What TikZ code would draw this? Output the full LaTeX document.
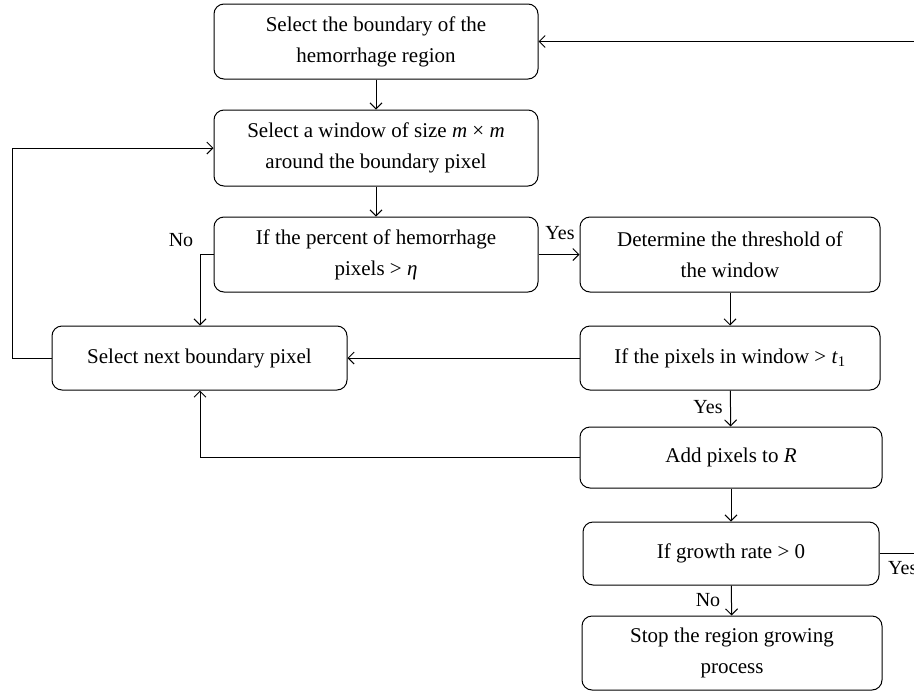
\documentclass[tikz,border=0pt]{standalone}
\usepackage{fontspec}
\setmainfont{Liberation Serif}
\usetikzlibrary{arrows.meta}
\begin{document}
\begin{tikzpicture}[x=1pt,y=-1pt,
  box/.style={draw,line width=1pt,rounded corners=10pt,align=center,inner sep=0pt,
    font=\fontsize{21}{31}\selectfont},
  conn/.style={line width=1pt},
  arr/.style={conn,-{Straight Barb[length=6pt,width=12pt,line width=1pt]}},
  lbl/.style={font=\fontsize{20}{22}\selectfont,inner sep=0pt}]
\useasboundingbox (0,0) rectangle (914,694);
\node[box,minimum width=324pt,minimum height=75pt] (b1) at (376,41.5) {Select the boundary of the\\hemorrhage region};
\node[box,minimum width=324pt,minimum height=76pt] (b2) at (376,148) {Select a window of size \textit{m} × \textit{m}\\around the boundary pixel};
\node[box,minimum width=324pt,minimum height=75pt] (b3) at (376,254.5) {If the percent of hemorrhage\\pixels > \textit{η}};
\node[box,minimum width=300pt,minimum height=75pt] (b4) at (730,254.5) {Determine the threshold of\\the window};
\node[box,minimum width=300pt,minimum height=64pt] (b5) at (730,358) {If the pixels in window > \textit{t}\textsubscript{1}};
\node[box,minimum width=295pt,minimum height=64pt] (sel) at (199.5,358) {Select next boundary pixel};
\node[box,minimum width=302pt,minimum height=61pt] (b6) at (731,457.5) {Add pixels to \textit{R}};
\node[box,minimum width=296pt,minimum height=63pt] (b7) at (731,553.5) {If growth rate > 0};
\node[box,minimum width=300pt,minimum height=74pt] (b8) at (732,653) {Stop the region growing\\process};
\coordinate (nx) at (200,0);
\coordinate (lx) at (12,0);
\coordinate (rx) at (935,0);
\draw[arr] (b1) -- (b2);
\draw[arr] (b2) -- (b3);
\draw[arr] (b3.east) -- (b4.west);
\draw[arr] (b3.west) -| (nx |- sel.north);
\draw[arr] (b4) -- (b5);
\draw[arr] (b5.west) -- (sel.east);
\draw[arr] (b5) -- (b6);
\draw[arr] (b6.west) -| (nx |- sel.south);
\draw[arr] (b6) -- (b7);
\draw[arr] (b7) -- (b8);
\draw[arr] (sel.west) -- (sel.west -| lx) |- (b2.west);
\draw[arr] (b7.east) -- (b7.east -| rx) |- (b1.east);
\node[lbl] (no1) at (181,240) {No};
\node[lbl] (yes1) at (560,233) {Yes};
\node[lbl] (yes2) at (708,407) {Yes};
\node[lbl] (no2) at (708,600) {No};
\node[lbl,anchor=west] (yes3) at (888,568) {Yes};
\end{tikzpicture}
\end{document}
